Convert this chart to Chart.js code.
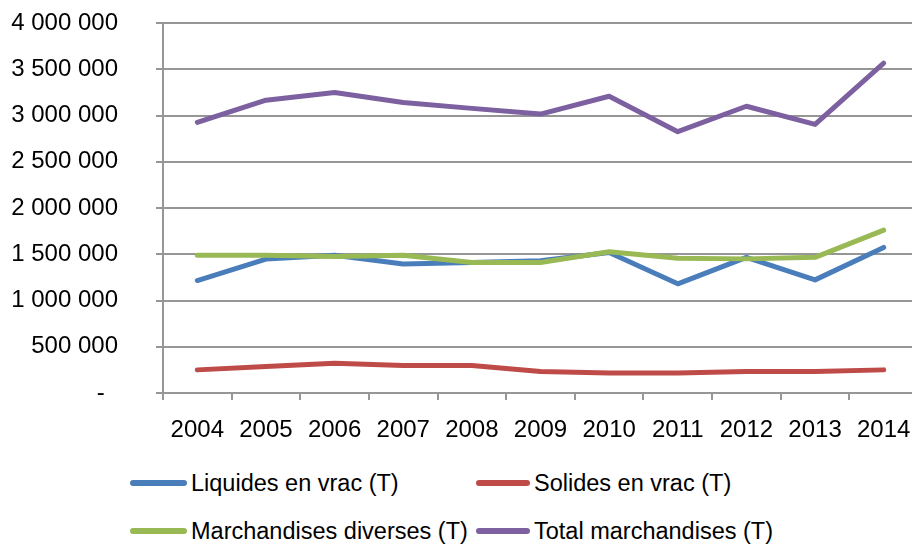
<!DOCTYPE html>
<html lang="fr">
<head>
    <meta charset="UTF-8">
    <title>Trafic de marchandises 2004-2014</title>
    <script src="https://cdn.jsdelivr.net/npm/chart.js"></script>
    <style>
        html, body {
            margin: 0;
            padding: 0;
            background: #fff;
            overflow: hidden;
            width: 912px;
            height: 546px;
        }
        .wrapper {
            position: absolute;
            left: 0;
            top: 0;
            width: 918px;
            height: 460px;
        }
        .legend-item {
            position: absolute;
            height: 30px;
            display: flex;
            align-items: center;
            font-family: "Liberation Sans", Arial, sans-serif;
            font-size: 23.5px;
            color: #000;
            white-space: nowrap;
        }
        .legend-item .swatch {
            display: inline-block;
            height: 6px;
            border-radius: 3px;
            margin-right: 4px;
        }
    </style>
</head>
<body>
    <div class="wrapper">
        <canvas id="trafficChart"></canvas>
    </div>
    <div id="legend"></div>

    <script>
        const years = ['2004', '2005', '2006', '2007', '2008', '2009', '2010', '2011', '2012', '2013', '2014'];

        const liquides = [1216000, 1448000, 1490000, 1395000, 1410000, 1430000, 1520000, 1180000, 1467000, 1223000, 1574000];
        const solides = [250000, 286000, 322000, 297000, 297000, 233000, 215000, 215000, 233000, 233000, 250000];
        const diverses = [1490000, 1490000, 1477000, 1490000, 1410000, 1410000, 1527000, 1456000, 1450000, 1467000, 1760000];
        const total = [2926000, 3165000, 3248000, 3140000, 3077000, 3015000, 3208000, 2825000, 3100000, 2904000, 3566000];

        const seriesNames = ['Liquides en vrac (T)', 'Solides en vrac (T)', 'Marchandises diverses (T)', 'Total marchandises (T)'];
        const seriesColors = ['#4A7EBB', '#BE4B48', '#98B954', '#7D60A0'];

        const yTicks = [0, 500000, 1000000, 1500000, 2000000, 2500000, 3000000, 3500000, 4000000];

        const gridColor = '#969696';
        const fontFamily = '"Liberation Sans", Arial, sans-serif';

        function fmt(v) {
            if (v === 0) return '-  ';
            return String(v).replace(/\B(?=(\d{3})+(?!\d))/g, ' ');
        }

        // later series sit on top, as in the spreadsheet original
        const datasets = [liquides, solides, diverses, total].map((values, i) => ({
            label: seriesNames[i],
            data: values,
            borderColor: seriesColors[i],
            backgroundColor: seriesColors[i],
            borderWidth: 5,
            pointRadius: 0,
            tension: 0,
            order: 4 - i,
            borderJoinStyle: 'round',
            borderCapStyle: 'round'
        }));

        const ctx = document.getElementById('trafficChart').getContext('2d');
        const chart = new Chart(ctx, {
            type: 'line',
            data: {
                labels: years,
                datasets: datasets
            },
            options: {
                responsive: true,
                maintainAspectRatio: false,
                animation: false,
                layout: {
                    padding: { top: 23, right: 0, bottom: 0, left: 0 }
                },
                scales: {
                    x: {
                        offset: true,
                        grid: {
                            offset: true,
                            drawOnChartArea: false,
                            drawTicks: true,
                            tickLength: 7,
                            color: gridColor,
                            lineWidth: 2
                        },
                        border: {
                            color: gridColor,
                            width: 2
                        },
                        ticks: {
                            color: '#000',
                            padding: 16,
                            maxRotation: 0,
                            autoSkip: false,
                            font: { family: fontFamily, size: 24 }
                        },
                        afterFit: scale => {
                            scale.height = 67;
                            scale.paddingLeft = 0;
                            scale.paddingRight = 0;
                        }
                    },
                    y: {
                        min: 0,
                        max: 4000000,
                        afterBuildTicks: scale => {
                            scale.ticks = yTicks.map(v => ({ value: v }));
                        },
                        grid: {
                            color: gridColor,
                            lineWidth: 2,
                            tickLength: 7
                        },
                        border: {
                            color: gridColor,
                            width: 2
                        },
                        ticks: {
                            color: '#000',
                            padding: 38,
                            font: { family: fontFamily, size: 24 },
                            callback: value => fmt(value)
                        },
                        afterFit: scale => {
                            // big label gap should not push the plot down
                            scale.width = 163;
                            scale.paddingTop = 0;
                            scale.paddingBottom = 0;
                        }
                    }
                },
                plugins: {
                    legend: { display: false },
                    tooltip: { enabled: false }
                }
            }
        });

        // legend laid out in two columns like the original
        const legendPos = [
            { x: 130, y: 483, w: 57 },
            { x: 476, y: 483, w: 54 },
            { x: 130, y: 531, w: 57 },
            { x: 476, y: 531, w: 54 }
        ];
        const legend = document.getElementById('legend');
        seriesNames.forEach((name, i) => {
            const item = document.createElement('div');
            item.className = 'legend-item';
            item.style.left = legendPos[i].x + 'px';
            item.style.top = (legendPos[i].y - 15) + 'px';
            const sw = document.createElement('span');
            sw.className = 'swatch';
            sw.style.width = legendPos[i].w + 'px';
            sw.style.background = seriesColors[i];
            const txt = document.createElement('span');
            txt.textContent = name;
            item.appendChild(sw);
            item.appendChild(txt);
            legend.appendChild(item);
        });
    </script>
</body>
</html>
